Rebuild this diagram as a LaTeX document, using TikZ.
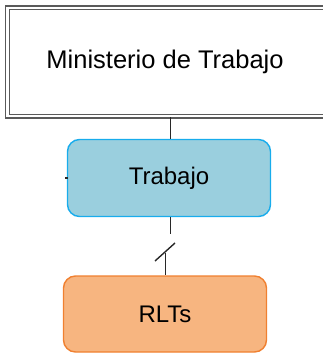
\documentclass[tikz,border=0pt]{standalone}
\usepackage{fontspec}
\setmainfont{Liberation Sans}
\usepackage{xcolor}
\usetikzlibrary{positioning, calc}

\begin{document}
\begin{tikzpicture}[
    x=1pt, y=-1pt,
    font=\fontsize{24}{28}\selectfont
]
% Define colors
\definecolor{minline}{RGB}{90,90,90}
\definecolor{trabfill}{RGB}{154,207,222}
\definecolor{trabline}{RGB}{24,172,236}
\definecolor{rltfill}{RGB}{247,181,128}
\definecolor{rltline}{RGB}{240,128,48}
\definecolor{linkgray}{RGB}{40,40,40}

% Frame of the picture
\useasboundingbox (0,0) rectangle (323,353);
\clip (0,0) rectangle (323,353);

\tikzset{
    minbox/.style={draw=minline, double=white, double distance=2.6pt, line width=1.2pt,
        minimum width=323pt, minimum height=108pt, inner sep=0pt},
    unitbox/.style={rounded corners=12pt, line width=1.4pt,
        minimum width=203pt, inner sep=0pt},
    link/.style={draw=linkgray, line width=0.9pt}
}

% Boxes
\node[minbox] (min) at (169,62) {};
\node[inner sep=0pt, font=\fontsize{25.5}{30}\selectfont] (mintext) at (165,62) {Ministerio de Trabajo};
\node[unitbox, draw=trabline, fill=trabfill, minimum height=77pt] (trab) at (169,178) {Trabajo};
\node[unitbox, draw=rltline, fill=rltfill, minimum height=76pt] (rlt) at (165,314) {RLTs};

% Break in the lower connector
\coordinate (brkA) at (170,234);
\coordinate (brkB) at (165,253);
\coordinate (slashA) at (155,261);
\coordinate (slashB) at (175,243);

% Connectors
\draw[link] (trab.north -| 170,0) -- (min.south -| 170,0);
\draw[link] (trab.south -| brkA) -- (brkA);
\draw[link, line width=1.4pt] (slashA) -- (slashB);
\draw[link] (brkB) -- (rlt.north);
\draw[link, line width=1.2pt] ([xshift=-1.5pt]trab.west) -- ++(3,0);

\end{tikzpicture}
\end{document}
